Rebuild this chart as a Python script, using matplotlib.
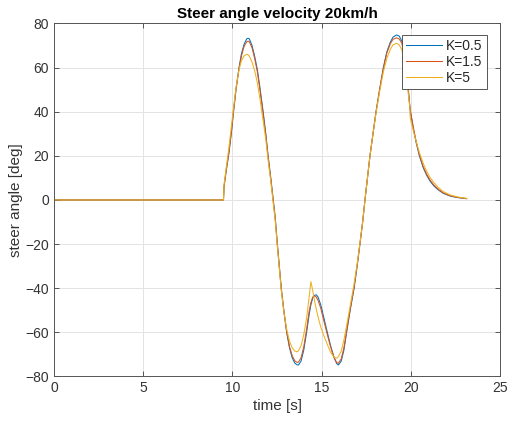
import matplotlib
matplotlib.use("Agg")
import matplotlib.pyplot as plt

t = [0, 9.5, 9.53, 9.65, 9.8, 9.95, 10.05, 10.2, 10.37, 10.5, 10.65, 10.8, 10.88, 10.95,
     11.1, 11.25, 11.4, 11.55, 11.73, 11.87, 12.0, 12.15, 12.29, 12.4, 12.52, 12.63, 12.74,
     12.88, 13.04, 13.2, 13.35, 13.5, 13.62, 13.7, 13.85, 14.0, 14.16, 14.3, 14.4, 14.5,
     14.6, 14.7, 14.8, 14.95, 15.1, 15.32, 15.5, 15.7, 15.85, 15.94, 16.1, 16.25, 16.4,
     16.6, 16.82, 17.0, 17.15, 17.3, 17.43, 17.57, 17.71, 17.88, 18.05, 18.25, 18.46,
     18.65, 18.85, 19.0, 19.2, 19.35, 19.5, 19.65, 19.77, 19.86, 19.95, 19.96, 20.0,
     20.15, 20.3, 20.48, 20.7, 20.9, 21.08, 21.3, 21.55, 21.82, 22.2, 22.6, 23.13]

k05 = [0, 0, 6, 13, 21, 31, 39, 50, 60, 66, 70.5, 73, 73.3, 73,
       70, 65, 59, 50.5, 39.5, 30, 20, 10, 0, -8, -20, -30, -40,
       -50, -60, -67, -71.5, -74, -74.7, -74.8, -73, -68, -60, -52, -47.5, -44.5,
       -43.2, -43, -44, -47.5, -52.5, -60, -66, -71.5, -74.2, -74.8, -73, -68, -60,
       -50, -40, -29.5, -20, -10, 0, 10, 20, 30, 40, 50, 60,
       67, 71.5, 73.8, 74.8, 74.3, 72, 65, 57, 50, 42, 41.3, 39,
       32, 26, 20, 14.5, 11, 8.5, 6.3, 4.5, 3, 1.8, 1.1, 0.6]

k15 = [0, 0, 6, 13.5, 21.5, 31.5, 39.5, 50, 59.5, 65, 69.5, 71.7, 72, 71.7,
       69, 64, 58, 49.5, 38.5, 29.5, 19.5, 9.5, -0.5, -8.5, -20.5, -30.5, -40.5,
       -50, -59.5, -66.5, -70.5, -73, -73.6, -73.5, -71.5, -66.5, -58.5, -50.5, -46.5, -44,
       -43.5, -44, -45.5, -49, -54, -61, -66.5, -71.5, -73.8, -74, -72, -67, -59.5,
       -49.5, -39.5, -29, -19.5, -10, 0, 10, 20, 30, 40, 50, 59.5,
       66.5, 70.8, 72.8, 73.5, 73, 71, 64.5, 56.5, 49.5, 42, 41.3, 39.2,
       32.5, 26.5, 20.5, 15, 11.5, 9, 6.7, 4.8, 3.2, 1.9, 1.2, 0.6]

k5 = [0, 0, 7, 14.5, 23.5, 34, 41, 51, 59, 63, 65.3, 66, 65.8, 65.2,
      62.5, 58.5, 53, 45.5, 35.5, 27.5, 18, 8.5, -1.5, -9.5, -21, -31, -41,
      -50.5, -58.5, -64, -67, -68.5, -68.8, -68.4, -66, -61, -53.5, -44, -37, -41,
      -45.5, -49.5, -53, -57.5, -61, -65.5, -69, -71.3, -71.7, -71, -68.5, -63.5, -57,
      -48, -38, -28.5, -19.5, -10, 0, 10, 20, 30, 39.5, 49, 58,
      64, 68.3, 70.3, 71, 70.3, 68, 62.5, 55, 48, 41.5, 37.5, 36,
      31, 26.5, 21.5, 16.5, 12.8, 10.2, 7.8, 5.6, 3.8, 2.3, 1.4, 0.7]

labels = ["K=0.5", "K=1.5", "K=5"]
colors = ["#0072BD", "#D95319", "#EDB120"]
xticks = [0, 5, 10, 15, 20, 25]
yticks = [-80, -60, -40, -20, 0, 20, 40, 60, 80]

plt.rcParams['font.family'] = ['Liberation Sans', 'DejaVu Sans']

fig = plt.figure(figsize=(5.08, 4.23), dpi=100)
ax = fig.add_axes([0.1063, 0.110, 0.878, 0.8345])

for y, lab, c in zip([k05, k15, k5], labels, colors):
    ax.plot(t, y, color=c, lw=0.75, label=lab)

ax.set_xlim(0, 25)
ax.set_ylim(-80, 80)
ax.set_xticks(xticks)
ax.set_yticks(yticks)
ax.grid(True, color="#e3e3e3", lw=0.7)
ax.set_axisbelow(True)
for s in ax.spines.values():
    s.set_color("#555555")
    s.set_linewidth(0.7)
ax.tick_params(direction="in", top=True, right=True, length=3.5, width=0.7,
               color="#555555", labelsize=10, labelcolor="#333333")
ax.set_xlabel("time [s]", fontsize=11, color="#333333", labelpad=3)
ax.set_ylabel("steer angle [deg]", fontsize=11, color="#333333", labelpad=2)
ax.set_title("Steer angle velocity 20km/h", fontsize=11, fontweight="bold",
             color="black", pad=4)

leg = ax.legend(loc="upper right", bbox_to_anchor=(0.970, 0.9674), fontsize=10,
                fancybox=False, framealpha=1, edgecolor="#555555",
                handlelength=2.6, handletextpad=0.3, borderpad=0.3,
                labelspacing=0.15, borderaxespad=0)
for txt in leg.get_texts():
    txt.set_color("#262626")
leg.get_frame().set_linewidth(0.7)

fig.savefig("out.png", dpi=100)
